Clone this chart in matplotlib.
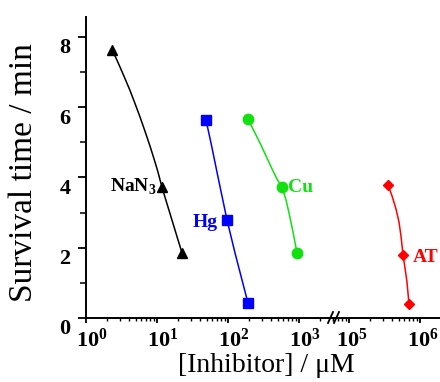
import numpy as np
import matplotlib
matplotlib.use("Agg")
import matplotlib.pyplot as plt
import matplotlib.transforms as mtrans
from matplotlib.ticker import LogLocator, NullFormatter

plt.rcParams['font.family'] = ['Liberation Serif', 'DejaVu Serif']
plt.rcParams['mathtext.fontset'] = 'custom'
plt.rcParams['mathtext.rm'] = 'Liberation Serif'
plt.rcParams['mathtext.bf'] = 'Liberation Serif:bold'

# measured points (markers)
nan3_x = [2.32, 11.7, 22.5]
nan3_y = [7.62, 3.73, 1.85]
hg_x = [49.0, 96.8, 191]
hg_y = [5.63, 2.79, 0.43]
cu_x = [191, 576, 937]
cu_y = [5.66, 3.73, 1.85]
at_x = [3.54e5, 5.77e5, 7.0e5]
at_y = [3.78, 1.79, 0.40]

# fitted curves
nan3_cx = [2.32, 2.65, 3.01, 3.54, 4.17, 4.90, 5.76, 6.78, 7.97, 9.07, 10.3, 11.7, 22.5]
nan3_cy = [7.62, 7.39, 7.14, 6.81, 6.47, 6.10, 5.72, 5.31, 4.89, 4.53, 4.16, 3.73, 1.85]
hg_cx = [49.0, 57.6, 72.3, 96.8, 125.5, 191]
hg_cy = [5.63, 4.98, 4.01, 2.79, 1.85, 0.43]
cu_cx = [191, 232, 282, 343, 417, 490, 576, 656, 723, 823, 937]
cu_cy = [5.66, 5.32, 4.98, 4.61, 4.24, 3.95, 3.73, 3.36, 2.99, 2.45, 1.85]
at_cx = [3.54e5, 4.04e5, 4.59e5, 5.06e5, 5.40e5, 5.77e5, 6.15e5, 6.56e5, 7.0e5]
at_cy = [3.78, 3.47, 3.10, 2.73, 2.33, 1.79, 1.42, 1.02, 0.40]

yticks = [0, 2, 4, 6, 8]
left_xticks = [1, 10, 100, 1000]
left_xlabels = [r'$\mathbf{10^{0}}$', r'$\mathbf{10^{1}}$', r'$\mathbf{10^{2}}$', r'$\mathbf{10^{3}}$']
right_xticks = [1e5, 1e6]
right_xlabels = [r'$\mathbf{10^{5}}$', r'$\mathbf{10^{6}}$']

W, H = 440, 382
fig = plt.figure(figsize=(W / 100, H / 100), dpi=100)

dec = 71.0  # px per decade
x0, xb, xr = 86, 333, 439
yb, yt = 318, 17
ax1 = fig.add_axes([x0 / W, (H - yb) / H, (xb - x0) / W, (yb - yt) / H])
ax2 = fig.add_axes([xb / W, (H - yb) / H, (xr - xb) / W, (yb - yt) / H])

ymax = (yb - yt) / 35.16
lw = 1.1
for ax in (ax1, ax2):
    ax.set_xscale('log')
    ax.set_ylim(0, ymax)
    ax.spines['top'].set_visible(False)
    ax.spines['right'].set_visible(False)
    ax.spines['left'].set_linewidth(1.4)
    ax.spines['bottom'].set_linewidth(1.4)
    ax.patch.set_alpha(0)
    ax.tick_params(axis='x', which='major', direction='out', length=3.8, width=1.3, pad=4, labelsize=16)
    ax.tick_params(axis='x', which='minor', direction='out', length=2.4, width=1.0)
    ax.xaxis.set_minor_locator(LogLocator(base=10, subs=np.arange(2, 10), numticks=20))
    ax.xaxis.set_minor_formatter(NullFormatter())

ax1.set_xlim(1, 10 ** ((xb - x0) / dec))
x_lo = 10 ** (5 - (349 - xb) / dec)
ax2.set_xlim(x_lo, x_lo * 10 ** ((xr - xb) / dec))
ax1.set_xticks(left_xticks, labels=left_xlabels)
ax2.set_xticks(right_xticks, labels=right_xlabels)

ax2.spines['left'].set_visible(False)
ax2.tick_params(axis='y', which='both', left=False, labelleft=False)

ax1.set_yticks(yticks)
ax1.set_yticks([1, 3, 5, 7], minor=True)
ax1.tick_params(axis='y', which='major', direction='out', length=5.8, width=1.3, pad=5.5, labelsize=16)
ax1.tick_params(axis='y', which='minor', direction='out', length=4.2, width=1.1)

# labels sit a little off their ticks in the original
off_y = mtrans.ScaledTranslation(0, -9 / 100, fig.dpi_scale_trans)
for lab in ax1.get_yticklabels():
    lab.set_fontweight('bold')
    lab.set_transform(lab.get_transform() + off_y)
for ax, dx in ((ax1, 6), (ax2, 3)):
    off_x = mtrans.ScaledTranslation(dx / 100, 0, fig.dpi_scale_trans)
    for lab in ax.get_xticklabels():
        lab.set_transform(lab.get_transform() + off_x)

green = '#11e011'
ax1.plot(nan3_cx, nan3_cy, '-', color='black', lw=lw)
ax1.plot(nan3_x, nan3_y, '^', color='black', ms=7, ls='none')
ax1.plot(hg_cx, hg_cy, '-', color='#0000ff', lw=lw)
ax1.plot(hg_x, hg_y, 's', color='#0000ff', ms=6.5, ls='none')
ax1.plot(cu_cx, cu_cy, '-', color=green, lw=lw)
ax1.plot(cu_x, cu_y, 'o', color=green, ms=7.5, ls='none')
ax2.plot(at_cx, at_cy, '-', color='#ff0000', lw=lw)
ax2.plot(at_x, at_y, 'D', color='#ff0000', ms=5.2, ls='none')

ax1.text(9.7, 3.58, r'NaN$_{\mathbf{3}}$', ha='right', va='baseline', fontsize=14,
         fontweight='bold', color='black')
ax1.text(72.3, 2.59, 'Hg', ha='right', va='baseline', fontsize=14, fontweight='bold', color='#0000ff')
ax1.text(701, 3.58, 'Cu', ha='left', va='baseline', fontsize=14, fontweight='bold', color=green)
ax2.text(7.96e5, 1.59, 'AT', ha='left', va='baseline', fontsize=14, fontweight='bold', color='#ff0000')

# axis break marks
bw = (xr - xb)
bh = (yb - yt)
for dx in (-5, 1):
    ax2.plot([dx / bw, (dx + 5) / bw], [-5 / bh, 6 / bh], color='black', lw=1.3,
             transform=ax2.transAxes, clip_on=False)

fig.text(266 / W, 1 - 366 / H, r'[Inhibitor] / μM', ha='center', va='center', fontsize=20)
fig.text(24 / W, 1 - 173 / H, 'Survival time / min', ha='center', va='center', rotation=90, fontsize=24)

fig.savefig('out.png', dpi=100)
